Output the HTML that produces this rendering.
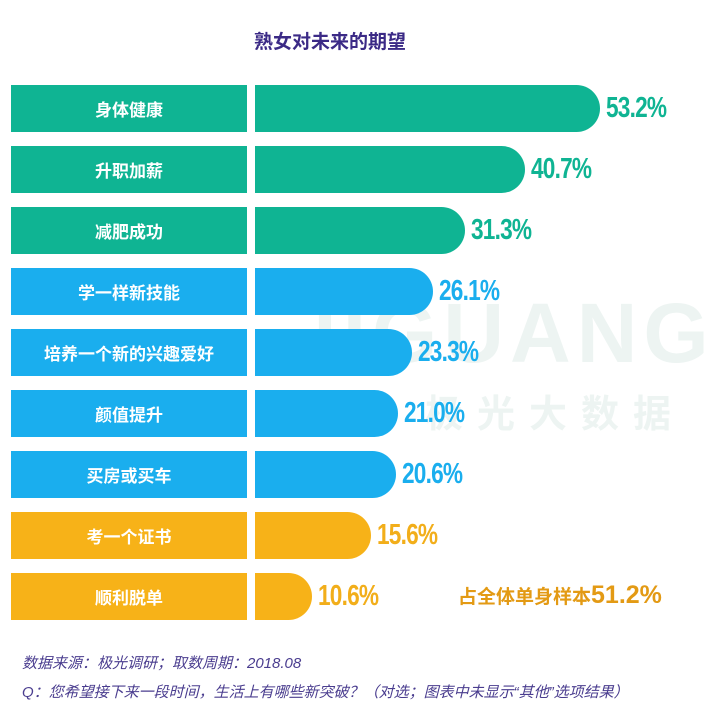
<!DOCTYPE html><html><head><meta charset="utf-8"><style>
body{margin:0;width:720px;height:728px;background:#fff;position:relative;overflow:hidden;font-family:"Liberation Sans","Noto Sans CJK SC",sans-serif}
.t{position:absolute;left:0;width:660px;top:27px;text-align:center;font-size:19px;font-weight:bold;color:#3b2a86}
.l{position:absolute;left:11px;width:236px;height:47px;color:#fff;font-weight:bold;font-size:17px;display:flex;align-items:center;justify-content:center}
.b{position:absolute;left:255px;height:47px;border-radius:0 24px 24px 0}
.p{position:absolute;font-family:"Liberation Sans Narrow","Liberation Sans",sans-serif;font-weight:bold;font-size:29px;transform:scaleX(.78);transform-origin:left;letter-spacing:-1px}
.g{background:#0fb493}.c{background:#1aaeee}.o{background:#f7b218}
.f{position:absolute;left:22px;font-size:15px;font-style:italic;color:#4a3d8f;white-space:nowrap}
.w{position:absolute;color:#edf4f2;font-weight:bold}
</style></head><body>
<div class="w" style="left:290px;top:285px;font-size:84px;letter-spacing:6px">JIGUANG</div>
<div class="w" style="left:425px;top:383px;font-size:38px;letter-spacing:14px">极光大数据</div>
<div class="t">熟女对未来的期望</div>

<div class="l g" style="top:85px">身体健康</div><div class="b g" style="top:85px;width:345px"></div><div class="p" style="top:92px;left:606px;color:#0fb493">53.2%</div>
<div class="l g" style="top:146px">升职加薪</div><div class="b g" style="top:146px;width:270px"></div><div class="p" style="top:153px;left:531px;color:#0fb493">40.7%</div>
<div class="l g" style="top:207px">减肥成功</div><div class="b g" style="top:207px;width:210px"></div><div class="p" style="top:214px;left:471px;color:#0fb493">31.3%</div>
<div class="l c" style="top:268px">学一样新技能</div><div class="b c" style="top:268px;width:178px"></div><div class="p" style="top:275px;left:439px;color:#1aaeee">26.1%</div>
<div class="l c" style="top:329px">培养一个新的兴趣爱好</div><div class="b c" style="top:329px;width:157px"></div><div class="p" style="top:336px;left:418px;color:#1aaeee">23.3%</div>
<div class="l c" style="top:390px">颜值提升</div><div class="b c" style="top:390px;width:143px"></div><div class="p" style="top:397px;left:404px;color:#1aaeee">21.0%</div>
<div class="l c" style="top:451px">买房或买车</div><div class="b c" style="top:451px;width:141px"></div><div class="p" style="top:458px;left:402px;color:#1aaeee">20.6%</div>
<div class="l o" style="top:512px">考一个证书</div><div class="b o" style="top:512px;width:116px"></div><div class="p" style="top:519px;left:377px;color:#f2ae1a">15.6%</div>
<div class="l o" style="top:573px">顺利脱单</div><div class="b o" style="top:573px;width:57px"></div><div class="p" style="top:580px;left:318px;color:#f2ae1a">10.6%</div>
<div style="position:absolute;left:458px;top:581px;color:#e39a14;font-weight:bold;font-size:19px">占全体单身样本<span style="font-size:25px">51.2%</span></div>
<div class="f" style="top:652px">数据来源：极光调研；取数周期：2018.08</div>
<div class="f" style="top:681px">Q：您希望接下来一段时间，生活上有哪些新突破？（对选；图表中未显示“其他”选项结果）</div>
</body></html>
